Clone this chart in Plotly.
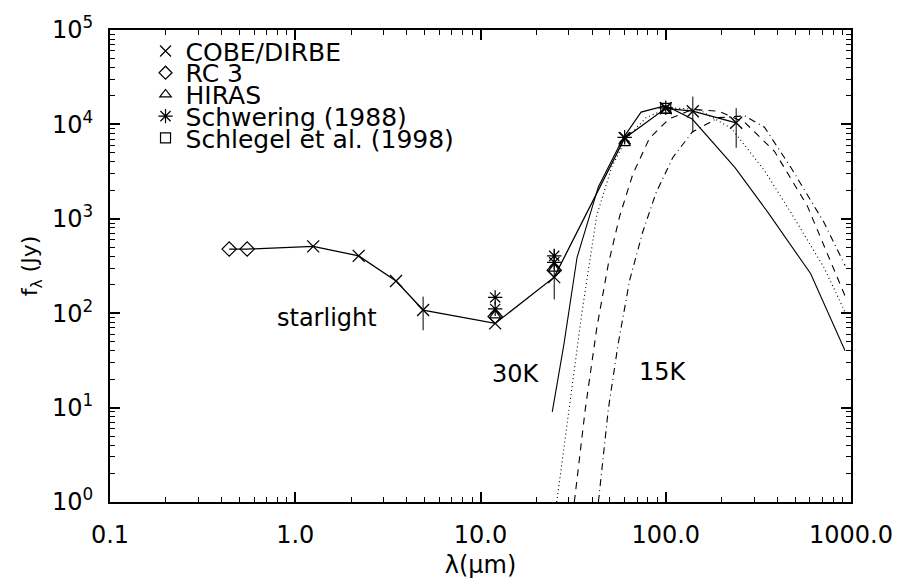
import plotly.graph_objects as go
import math

# ---------------- data ----------------
cobe_wl = [1.25, 2.2, 3.5, 4.9, 12, 25, 60, 100, 140, 240]
cobe_f = [510, 405, 219, 108, 78, 241, 7160, 14800, 13800, 10400]
cobe_err_plus = [0, 0, 0, 42, 0, 236, 0, 0, 5900, 4460]
cobe_err_minus = [0, 0, 0, 42, 0, 101, 0, 0, 5560, 4740]

rc3_wl = [0.44, 0.55, 12, 25]
rc3_f = [478, 478, 92, 285]

hiras_wl = [12, 25, 60, 100]
hiras_f = [95, 296, 6340, 14000]

schw_wl = [12, 12, 25, 25, 60, 100]
schw_f = [147, 111, 405, 346, 7300, 15000]

schl_wl = [100]
schl_f = [14800]

sed_wl = [0.44, 0.55, 1.25, 2.2, 3.5, 4.9, 12, 25, 60, 100, 140, 240]
sed_f = [478, 478, 510, 405, 219, 108, 78, 241, 7160, 14800, 13800, 10400]

# model curves (30K ... 15K)
m_solid_wl = [24.4, 28.2, 33.2, 43.3, 58.9, 73.6, 100, 139, 236, 356, 605, 929]
m_solid_f = [9.0, 46.8, 389, 2190, 7160, 13500, 15800, 11400, 3510, 1170, 263, 40]

m_dot_wl = [25.8, 30.0, 35.3, 42.4, 51.0, 61.3, 78.3, 104, 151, 227, 341, 473, 713, 929]
m_dot_f = [1.0, 9.7, 103, 1080, 3510, 7100, 11800, 15000, 14400, 9000, 3240, 1170, 307, 103]

m_dash_wl = [32.1, 36.8, 42.4, 49.0, 56.5, 66.5, 81.6, 104, 139, 193, 267, 386, 581, 929]
m_dash_f = [1.0, 9.7, 69, 333, 1080, 2990, 7100, 11400, 14400, 13800, 10500, 5190, 1370, 152]

m_dd_wl = [43.3, 49.0, 55.3, 63.9, 75.2, 88.5, 109, 139, 193, 267, 341, 473, 713, 929]
m_dd_f = [1.0, 9.7, 46.8, 225, 729, 1870, 4440, 8300, 11800, 12300, 9340, 3510, 923, 320]

x_tickvals = [0.1, 1, 10, 100, 1000]
x_ticktext = ["0.1", "1.0", "10.0", "100.0", "1000.0"]
y_tickvals = [1, 10, 100, 1000, 10000, 100000]
y_ticktext = ["10<sup>0</sup>", "10<sup>1</sup>", "10<sup>2</sup>",
              "10<sup>3</sup>", "10<sup>4</sup>", "10<sup>5</sup>"]

legend_names = ["COBE/DIRBE", "RC 3", "HIRAS", "Schwering (1988)", "Schlegel et al. (1998)"]

# ---------------- figure ----------------
FONT = "DejaVu Sans"
fig = go.Figure()

fig.add_trace(go.Scatter(x=m_solid_wl, y=m_solid_f, mode="lines",
                         line=dict(color="black", width=1.1), showlegend=False))
fig.add_trace(go.Scatter(x=m_dot_wl, y=m_dot_f, mode="lines",
                         line=dict(color="black", width=1.1, dash="1px,3px"), showlegend=False))
fig.add_trace(go.Scatter(x=m_dash_wl, y=m_dash_f, mode="lines",
                         line=dict(color="black", width=1.1, dash="7px,6px"), showlegend=False))
fig.add_trace(go.Scatter(x=m_dd_wl, y=m_dd_f, mode="lines",
                         line=dict(color="black", width=1.1, dash="7px,4px,1px,4px"), showlegend=False))
fig.add_trace(go.Scatter(x=sed_wl, y=sed_f, mode="lines",
                         line=dict(color="black", width=1.3), showlegend=False))

# data markers
fig.add_trace(go.Scatter(
    x=cobe_wl, y=cobe_f, mode="markers", showlegend=False,
    marker=dict(symbol="x-thin-open", size=12, color="black", line=dict(color="black", width=1.3)),
    error_y=dict(type="data", array=cobe_err_plus, arrayminus=cobe_err_minus,
                 color="black", thickness=1, width=0)))
fig.add_trace(go.Scatter(
    x=rc3_wl, y=rc3_f, mode="markers", showlegend=False,
    marker=dict(symbol="diamond-open", size=11, color="black", line=dict(color="black", width=1.2))))
fig.add_trace(go.Scatter(
    x=hiras_wl, y=hiras_f, mode="markers", showlegend=False,
    marker=dict(symbol="triangle-up-open", size=10, color="black", line=dict(color="black", width=1.2))))
fig.add_trace(go.Scatter(
    x=schw_wl, y=schw_f, mode="markers", showlegend=False,
    marker=dict(symbol="asterisk-open", size=12, color="black", line=dict(color="black", width=1.2))))
fig.add_trace(go.Scatter(
    x=schl_wl, y=schl_f, mode="markers", showlegend=False,
    marker=dict(symbol="square-open", size=10, color="black", line=dict(color="black", width=1.2))))

# legend entries (one legend per entry for exact spacing)
legend_symbols = ["x-thin-open", "diamond-open", "triangle-up-open", "asterisk-open", "square-open"]
legend_sizes = [11, 10, 10, 12, 10]
legend_ypix = [43, 65.5, 88, 110.5, 133]
PL, PR, PT, PB = 110, 861, 21, 510
W, H = 905, 586
for i, (name, sym, sz) in enumerate(zip(legend_names, legend_symbols, legend_sizes)):
    lname = "legend" if i == 0 else f"legend{i+1}"
    fig.add_trace(go.Scatter(x=[None], y=[None], mode="markers", name=name,
                             legend=lname, showlegend=True,
                             marker=dict(symbol=sym, size=sz, color="black",
                                         line=dict(color="black", width=1.2))))
    fig.update_layout(**{lname: dict(
        x=(146 - PL) / (PR - PL), y=(PB - legend_ypix[i]) / (PB - PT),
        xanchor="left", yanchor="middle", bgcolor="rgba(0,0,0,0)",
        borderwidth=0, itemwidth=30,
        font=dict(family=FONT, size=25, color="black"))})

axis_common = dict(
    type="log", showgrid=False, zeroline=False,
    showline=True, linecolor="black", linewidth=2, mirror="allticks",
    ticks="inside", ticklen=10, tickwidth=1.5, tickcolor="black",
    tickfont=dict(family=FONT, size=24, color="black"),
)

x_minor = [m * 10 ** e for e in range(-1, 3) for m in range(2, 10)]
y_minor = [m * 10 ** e for e in range(0, 5) for m in range(2, 10)]

fig.update_xaxes(**axis_common, range=[-1, 3], tickmode="array",
                 tickvals=x_tickvals, ticktext=x_ticktext, ticklabelstandoff=10,
                 minor=dict(tickmode="array", tickvals=x_minor, ticks="inside",
                            ticklen=5, tickwidth=1, tickcolor="black"),
                 title=dict(text="λ(μm)", font=dict(family=FONT, size=24, color="black"),
                            standoff=8))
fig.update_yaxes(**axis_common, range=[0, 5], tickmode="array",
                 tickvals=y_tickvals, ticktext=y_ticktext, ticklabelstandoff=10,
                 minor=dict(tickmode="array", tickvals=y_minor, ticks="inside",
                            ticklen=5, tickwidth=1, tickcolor="black"),
                 title=dict(text="f<sub>λ</sub> (Jy)", font=dict(family=FONT, size=22, color="black"),
                            standoff=8))

for txt, lam, fl in [("starlight", 1.486, 89.8), ("30K", 15.6, 22.9), ("15K", 96.1, 23.9)]:
    fig.add_annotation(x=math.log10(lam), y=math.log10(fl), text=txt, showarrow=False,
                       xref="x", yref="y", font=dict(family=FONT, size=24, color="black"))

fig.update_layout(
    width=W, height=H, margin=dict(l=PL, r=W - PR, t=PT, b=H - PB),
    paper_bgcolor="white", plot_bgcolor="white",
)

fig.write_html("out.html")
